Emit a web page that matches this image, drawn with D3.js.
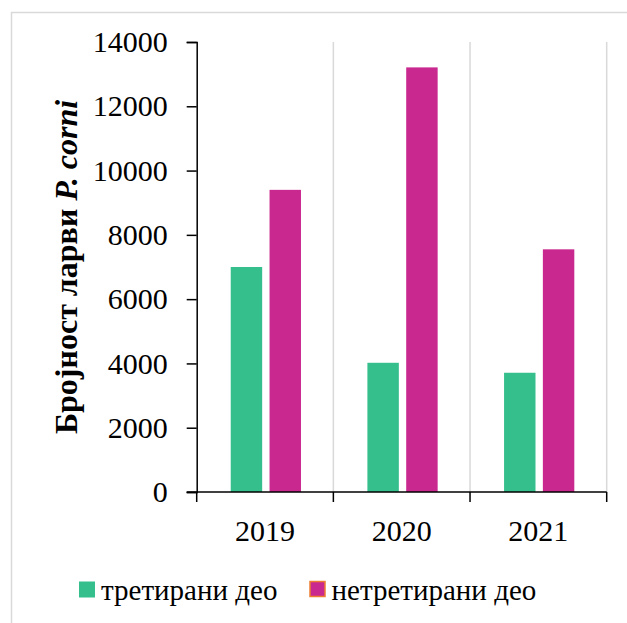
<!DOCTYPE html>
<html>
<head>
<meta charset="utf-8">
<script src="https://cdn.jsdelivr.net/npm/d3@7"></script>
<style>
  html, body { margin: 0; padding: 0; background: #fff; }
  svg { display: block; }
</style>
</head>
<body>
<svg id="chart" width="627" height="623"></svg>
<script>
// Larvae counts per year, treated vs untreated section
const years = ["2019", "2020", "2021"];
const seriesNames = ["третирани део", "нетретирани део"];
const treated = [7000, 4020, 3710];
const untreated = [9400, 13210, 7550];
const yTicks = [0, 2000, 4000, 6000, 8000, 10000, 12000, 14000];
const colors = ["#35BF8C", "#C9288F"];

const FONT = '"Liberation Serif"';
const svg = d3.select("#chart");

// outer frame
svg.append("rect")
  .attr("x", 11.5).attr("y", 12.5)
  .attr("width", 640).attr("height", 640)
  .attr("fill", "none").attr("stroke", "#d9d9d9").attr("stroke-width", 1.5);

const plot = { left: 196.7, right: 606.7, top: 42, bottom: 492 };

const x = d3.scaleBand().domain(years).range([plot.left, plot.right]).padding(0);
const xs = d3.scaleBand().domain(seriesNames)
  .range([x.bandwidth() * 0.249, x.bandwidth() * 0.763])
  .paddingInner(0.19).paddingOuter(0);
const y = d3.scaleLinear().domain([0, 14000]).range([plot.bottom, plot.top]);

// vertical gridlines at category boundaries
svg.append("g").selectAll("line")
  .data(years)
  .join("line")
  .attr("x1", d => x(d) + x.bandwidth()).attr("x2", d => x(d) + x.bandwidth())
  .attr("y1", y(14000)).attr("y2", y(0))
  .attr("stroke", "#d9d9d9").attr("stroke-width", 1.5);

// bars
const rows = years.map((yr, i) => ({ year: yr, values: [treated[i], untreated[i]] }));
svg.append("g").selectAll("g")
  .data(rows)
  .join("g")
  .attr("transform", d => `translate(${x(d.year)},0)`)
  .selectAll("rect")
  .data(d => d.values.map((v, k) => ({ name: seriesNames[k], value: v, k })))
  .join("rect")
  .attr("x", d => xs(d.name))
  .attr("width", xs.bandwidth())
  .attr("y", d => y(d.value))
  .attr("height", d => y(0) - y(d.value))
  .attr("fill", d => colors[d.k]);

// y axis
const yAxis = d3.axisLeft(y).tickValues(yTicks).tickSize(10).tickPadding(19)
  .tickFormat(d3.format("d"));
const gy = svg.append("g").attr("transform", `translate(${plot.left},0)`).call(yAxis);
gy.select(".domain").attr("stroke", "#000").attr("stroke-width", 1.5);
gy.selectAll(".tick line").attr("stroke", "#000").attr("stroke-width", 1.5);
gy.selectAll(".tick text")
  .style("font-family", FONT).style("font-size", "30px").attr("fill", "#000");

// x axis: baseline plus ticks at category boundaries
const gx = svg.append("g");
gx.append("line")
  .attr("x1", plot.left - 10).attr("x2", plot.right)
  .attr("y1", y(0)).attr("y2", y(0))
  .attr("stroke", "#000").attr("stroke-width", 1.5);
const bounds = [plot.left].concat(years.map(d => x(d) + x.bandwidth()));
gx.selectAll("line.tk")
  .data(bounds)
  .join("line").attr("class", "tk")
  .attr("x1", d => d).attr("x2", d => d)
  .attr("y1", y(0)).attr("y2", y(0) + 10)
  .attr("stroke", "#000").attr("stroke-width", 1.5);
gx.selectAll("text")
  .data(years)
  .join("text")
  .attr("x", d => x(d) + x.bandwidth() / 2)
  .attr("y", 541)
  .attr("text-anchor", "middle")
  .style("font-family", FONT).style("font-size", "30px")
  .text(d => d);

// y axis title
const title = svg.append("text")
  .attr("transform", `translate(77,${(plot.top + plot.bottom) / 2}) rotate(-90)`)
  .attr("text-anchor", "middle")
  .style("font-family", FONT).style("font-size", "32px")
  .style("font-weight", "bold");
title.append("tspan").text("Бројност ларви ");
title.append("tspan").style("font-style", "italic").text("P. corni");

// legend
const legend = svg.append("g");
const legendItems = [
  { name: seriesNames[0], x: 79, color: colors[0], stroke: "none" },
  { name: seriesNames[1], x: 309.5, color: colors[1], stroke: "#ED7D31" }
];
const li = legend.selectAll("g").data(legendItems).join("g")
  .attr("transform", d => `translate(${d.x},0)`);
li.append("rect")
  .attr("x", d => d.stroke === "none" ? 0 : 0.5)
  .attr("y", 581.5)
  .attr("width", d => d.stroke === "none" ? 16 : 15)
  .attr("height", d => d.stroke === "none" ? 16 : 15)
  .attr("fill", d => d.color)
  .attr("stroke", d => d.stroke)
  .attr("stroke-width", 1.5);
li.append("text")
  .attr("x", 22)
  .attr("y", 600)
  .style("font-family", FONT).style("font-size", "29px")
  .text(d => d.name);
</script>
</body>
</html>
